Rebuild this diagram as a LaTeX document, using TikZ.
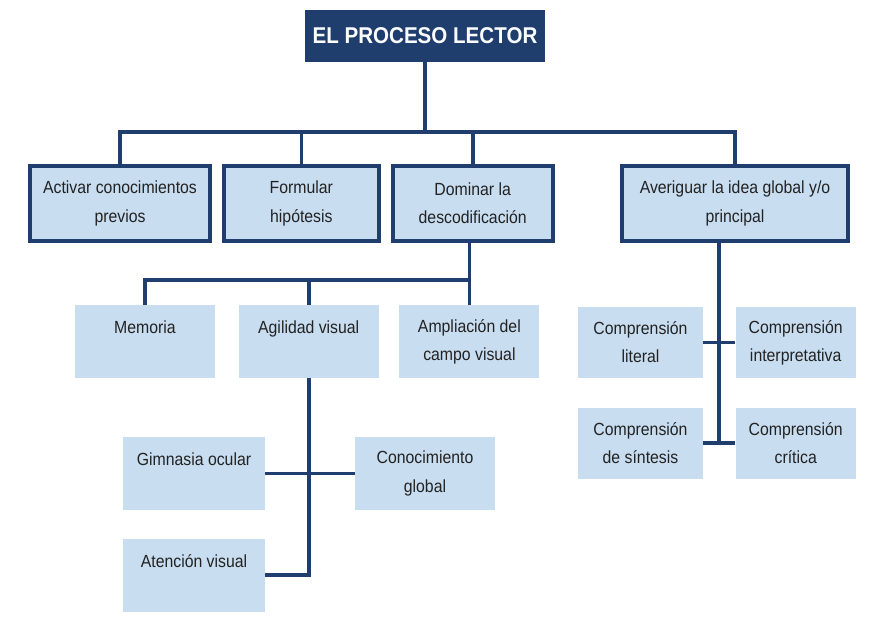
\documentclass[tikz,border=0pt]{standalone}
\usepackage{fontspec}
\setmainfont{Liberation Sans}[FakeStretch=0.9]
\usepackage{xcolor}
\usetikzlibrary{positioning}
\definecolor{navy}{HTML}{1F3E6D}
\definecolor{lightbox}{HTML}{C8DDF0}
\definecolor{inktext}{HTML}{222222}

\begin{document}
\begin{tikzpicture}
    \tikzstyle{every node}=[align=center,inner sep=2pt,text=inktext,font=\fontsize{10}{16}\selectfont]
    \tikzstyle{link}=[draw=navy,line width=2.1pt]
    \tikzstyle{tnode}=[fill=navy,text=white!92!lightbox,font=\fontsize{13}{15}\selectfont\bfseries,minimum width=4.8cm,minimum height=1.04cm]
    \tikzstyle{wnode}=[fill=lightbox,draw=navy,line width=2.2pt,minimum height=1.5cm]
    \tikzstyle{snode}=[fill=lightbox,minimum width=2.8cm,minimum height=1.46cm]
    \tikzstyle{cnode}=[snode,minimum width=2.5cm,minimum height=1.42cm]

    \useasboundingbox (0,0) rectangle (17.48,-12.46);

    \node[tnode] (lector) at (8.5,-0.72) {EL PROCESO LECTOR};

    \node[wnode,minimum width=3.6cm] (activar) at (2.4,-4.07) {Activar conocimientos\\previos};
    \node[wnode,minimum width=3.1cm,right=0.2cm of activar] (formular) {Formular\\hipótesis};
    \node[wnode,minimum width=3.2cm,right=0.2cm of formular] (dominar) {Dominar la\\descodificación};
    \node[wnode,minimum width=4.52cm] (averiguar) at (14.7,-4.07) {Averiguar la idea global y/o\\principal};

    \node[snode] (memoria) at (2.9,-6.83) {Memoria\\\mbox{}};
    \node[snode,right=0.46cm of memoria] (agilidad) {Agilidad visual\\\mbox{}};
    \node[snode,right=0.4cm of agilidad] (ampliacion) {Ampliación del\\campo visual};

    \node[snode,minimum width=2.84cm] (gimnasia) at (3.88,-9.47) {Gimnasia ocular\\\mbox{}};
    \node[snode] (conocimiento) at (8.5,-9.47) {Conocimiento\\global};
    \node[snode,minimum width=2.84cm,below=0.56cm of gimnasia] (atencion) {Atención visual\\\mbox{}};

    \node[cnode] (literal) at (12.81,-6.85) {Comprensión\\literal};
    \node[cnode,minimum width=2.4cm,right=0.64cm of literal] (interpretativa) {Comprensión\\interpretativa};
    \node[cnode,below=0.58cm of literal] (sintesis) {Comprensión\\de síntesis};
    \node[cnode,minimum width=2.4cm,right=0.64cm of sintesis] (critica) {Comprensión\\crítica};

    \coordinate (bus1) at (0,-2.64);
    \coordinate (bus2) at (0,-5.6);
    \coordinate (spine) at (14.38,0);

    % first level
    \draw[link] (lector.south) -- (lector.south |- bus1);
    \draw[link] (activar.north) -- (activar.north |- bus1) -| (averiguar.north);
    \draw[link] (formular.north) -- (formular.north |- bus1);
    \draw[link] (dominar.north) -- (dominar.north |- bus1);

    % descodificacion
    \draw[link] (dominar.south -| ampliacion.north) -- (ampliacion.north);
    \draw[link] (memoria.north) -- (memoria.north |- bus2) -| (ampliacion.north);
    \draw[link] (agilidad.north) -- (agilidad.north |- bus2);

    \draw[link] (agilidad.south) |- (atencion.east);
    \draw[link] (gimnasia.east) -- (conocimiento.west);

    % comprension
    \draw[link] (averiguar.south -| spine) -- (sintesis.east -| spine);
    \draw[link] (literal.east) -- (interpretativa.west);
    \draw[link] (sintesis.east) -- (critica.west);

\end{tikzpicture}
\end{document}
